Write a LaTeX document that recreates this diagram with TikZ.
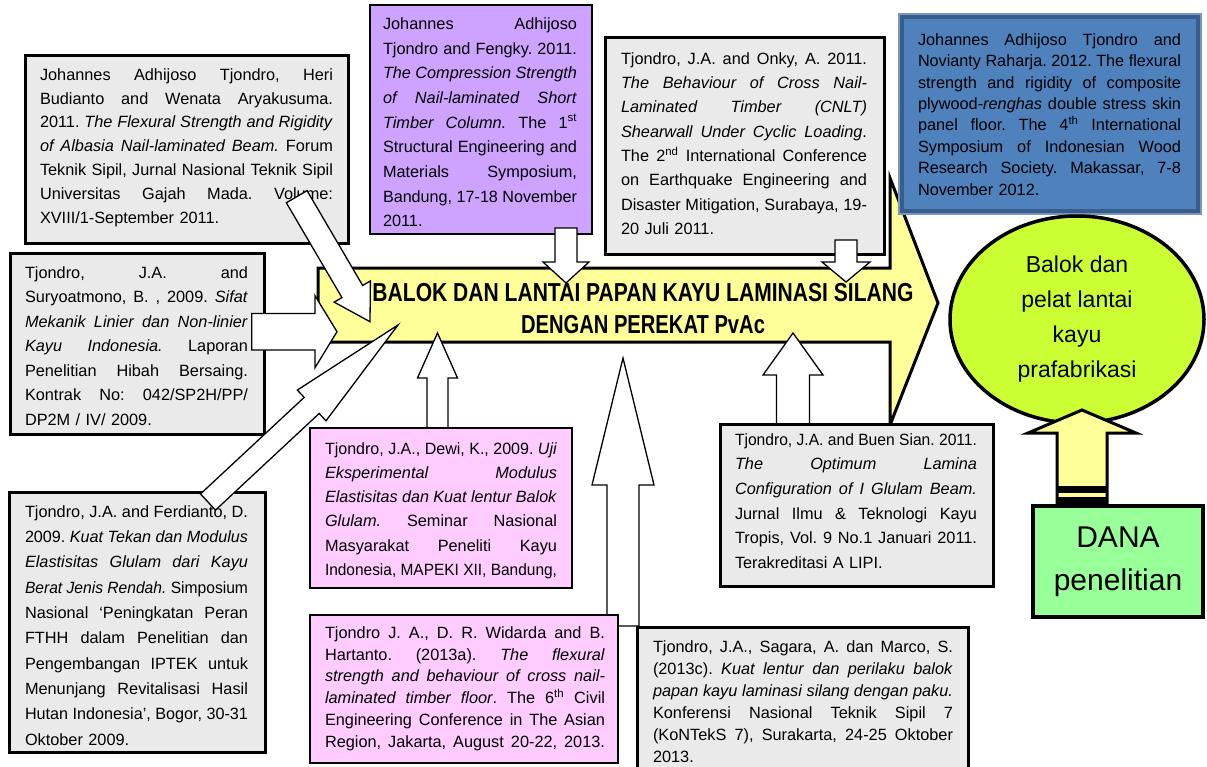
\documentclass[tikz,border=0pt]{standalone}
\usepackage{fontspec}
\setmainfont{Liberation Sans}
\usepackage{graphicx}
\usetikzlibrary{calc,shapes.geometric}
\AtBeginDocument{\frenchspacing}

\definecolor{boxgray}{RGB}{234,234,234}
\definecolor{lav}{RGB}{206,163,255}
\definecolor{pinkbox}{RGB}{255,204,255}
\definecolor{arrowyellow}{RGB}{255,255,153}
\definecolor{limegreen}{RGB}{204,255,51}
\definecolor{danagreen}{RGB}{153,255,153}
\definecolor{bluefill}{RGB}{79,129,189}
\definecolor{blueedge}{RGB}{56,93,138}
\definecolor{blueouter}{RGB}{120,150,190}

\newlength\jlwd
\newcommand\jlsp{\spaceskip=0.278em plus 30em\relax\xspaceskip=\spaceskip}
\newcommand\justline[2]{\leavevmode\settowidth{\jlwd}{\jlsp #2}\ifdim\jlwd>#1\relax\resizebox{#1}{\height}{\jlsp #2}\else\hbox to #1{\jlsp #2}\fi}

\newcommand\blockarrow[6][whitearrow]{%
  \coordinate (hb) at ($(#3)!#6!(#2)$);
  \draw[#1] ($(#2)!#4!90:(#3)$) -- ($(hb)!#4!90:(#3)$) -- ($(hb)!#5!90:(#3)$) -- (#3)
    -- ($(hb)!#5!-90:(#3)$) -- ($(hb)!#4!-90:(#3)$) -- ($(#2)!#4!-90:(#3)$) -- cycle;}

\tikzset{
  thickbox/.style={rectangle, draw=black, line width=3pt, fill=boxgray, anchor=north west, inner sep=0pt, outer sep=0pt},
  thinbox/.style={rectangle, draw=black, line width=1.3pt, anchor=north west, inner sep=0pt, outer sep=0pt},
  bluebox/.style={rectangle, draw=blueedge, line width=4pt, fill=bluefill, anchor=north west, inner sep=0pt, outer sep=0pt},
  reftext/.style={anchor=north west, inner sep=0pt, outer sep=0pt, align=left},
  whitearrow/.style={draw=black, fill=white, line width=1.3pt, line join=miter},
  yarrow/.style={draw=black, fill=arrowyellow, line width=3pt, line join=miter},
  bigarrow/.style={draw=black, fill=arrowyellow, line width=3pt, line join=miter},
}

\begin{document}
\begin{tikzpicture}[x=1pt,y=-1pt]
\clip (0,0) rectangle (1207,766);
\fill[white] (0,0) rectangle (1207,766);

% ---------- main yellow arrow ----------
\draw[bigarrow] (318,268) -- (890,268) -- (890,178) -- (938,303) -- (890,425) -- (890,342) -- (318,342) -- cycle;
\node[font=\bfseries\fontsize{26}{32}\selectfont, align=center, inner sep=0pt] (title) at (643,309)
  {\resizebox{541pt}{\height}{BALOK DAN LANTAI PAPAN KAYU LAMINASI SILANG}\\
   \resizebox{244pt}{\height}{DENGAN PEREKAT PvAc}};

% ---------- arrow end points ----------
\coordinate (aT) at (296.7,196.7); \coordinate (aH) at (370,321.7);
\coordinate (bT) at (251.7,331.7); \coordinate (bH) at (337,331.7);
\coordinate (cT) at (208,502);     \coordinate (cH) at (398,325);
\coordinate (dT) at (566,228);     \coordinate (dH) at (566,283);
\coordinate (eT) at (846,240);     \coordinate (eH) at (846,282);
\coordinate (fT) at (437.5,428);   \coordinate (fH) at (437.5,333);
\coordinate (gT) at (623,626);     \coordinate (gH) at (623,358);
\coordinate (hT) at (793,425);     \coordinate (hH) at (793,333);
\coordinate (yT) at (1082,503);    \coordinate (yH) at (1082,410);

% arrows behind boxes
\blockarrow{fT}{fH}{10.5pt}{20pt}{45pt}
\blockarrow{gT}{gH}{16pt}{31pt}{127pt}
\blockarrow{hT}{hH}{16.5pt}{30pt}{42pt}

% ---------- boxes ----------
\node[thickbox, minimum width=323pt, minimum height=188pt] (boxA) at (25,55) {};
\node[reftext, text width=293pt, font=\fontsize{16.3}{23.8}\selectfont] (tA) at (40,68.5) {%
\justline{293pt}{Johannes Adhijoso Tjondro, Heri}\\
\justline{293pt}{Budianto and Wenata Aryakusuma.}\\
\justline{293pt}{2011. \textit{The Flexural Strength and Rigidity}}\\
\justline{293pt}{\textit{of Albasia Nail-laminated Beam.} Forum}\\
\justline{293pt}{Teknik Sipil, Jurnal Nasional Teknik Sipil}\\
\justline{293pt}{Universitas Gajah Mada. Volume:}\\
XVIII/1-September 2011.};

\node[thinbox, fill=lav, minimum width=222pt, minimum height=229pt] (boxB) at (370,5) {};
\node[reftext, text width=194pt, font=\fontsize{16.3}{24.7}\selectfont] (tB) at (383,17.5) {%
\justline{194pt}{Johannes Adhijoso}\\
\justline{194pt}{Tjondro and Fengky. 2011.}\\
\justline{194pt}{\textit{The Compression Strength}}\\
\justline{194pt}{\textit{of Nail-laminated Short}}\\
\justline{194pt}{\textit{Timber Column.} The 1\textsuperscript{st}}\\
\justline{194pt}{Structural Engineering and}\\
\justline{194pt}{Materials Symposium,}\\
\justline{194pt}{Bandung, 17-18 November}\\
2011.};

\node[thickbox, minimum width=279pt, minimum height=217pt] (boxC) at (605,37) {};
\node[reftext, text width=246pt, font=\fontsize{16.3}{24.3}\selectfont] (tC) at (621,52.5) {%
\justline{246pt}{Tjondro, J.A. and Onky, A. 2011.}\\
\justline{246pt}{\textit{The Behaviour of Cross Nail-}}\\
\justline{246pt}{\textit{Laminated Timber (CNLT)}}\\
\justline{246pt}{\textit{Shearwall Under Cyclic Loading}.}\\
\justline{246pt}{The 2\textsuperscript{nd} International Conference}\\
\justline{246pt}{on Earthquake Engineering and}\\
\justline{246pt}{Disaster Mitigation, Surabaya, 19-}\\
20 Juli 2011.};

\draw[blueouter, line width=1.5pt] (899,14) rectangle (1201,214);
\node[bluebox, minimum width=296pt, minimum height=194pt] (boxD) at (902,17) {};
\node[reftext, text width=263pt, font=\fontsize{16.3}{21.4}\selectfont] (tD) at (918,33.5) {%
\justline{263pt}{Johannes Adhijoso Tjondro and}\\
\justline{263pt}{Novianty Raharja. 2012. The flexural}\\
\justline{263pt}{strength and rigidity of composite}\\
\justline{263pt}{plywood-\textit{renghas} double stress skin}\\
\justline{263pt}{panel floor. The 4\textsuperscript{th} International}\\
\justline{263pt}{Symposium of Indonesian Wood}\\
\justline{263pt}{Research Society. Makassar, 7-8}\\
November 2012.};

\node[thickbox, minimum width=254pt, minimum height=181pt] (boxE) at (10,253) {};
\node[reftext, text width=223pt, font=\fontsize{16.3}{24.5}\selectfont] (tE) at (25,266.5) {%
\justline{223pt}{Tjondro, J.A. and}\\
\justline{223pt}{Suryoatmono, B. , 2009. \textit{Sifat}}\\
\justline{223pt}{\textit{Mekanik Linier dan Non-linier}}\\
\justline{223pt}{\textit{Kayu Indonesia.} Laporan}\\
\justline{223pt}{Penelitian Hibah Bersaing.}\\
\justline{223pt}{Kontrak No: 042/SP2H/PP/}\\
DP2M / IV/ 2009.};

\node[thinbox, fill=pinkbox, minimum width=262pt, minimum height=160pt] (boxF) at (310,428) {};
\node[reftext, text width=232pt, font=\fontsize{16.3}{24.2}\selectfont] (tF) at (325,442.5) {%
\justline{232pt}{Tjondro, J.A., Dewi, K., 2009. \textit{Uji}}\\
\justline{232pt}{\textit{Eksperimental Modulus}}\\
\justline{232pt}{\textit{Elastisitas dan Kuat lentur Balok}}\\
\justline{232pt}{\textit{Glulam.} Seminar Nasional}\\
\justline{232pt}{Masyarakat Peneliti Kayu}\\
\justline{232pt}{Indonesia, MAPEKI XII, Bandung,}};

\node[thickbox, minimum width=273pt, minimum height=162pt] (boxG) at (720,424) {};
\node[reftext, text width=242pt, font=\fontsize{16.3}{24.6}\selectfont] (tG) at (735,433.5) {%
\justline{242pt}{Tjondro, J.A. and Buen Sian. 2011.}\\
\justline{242pt}{\textit{The Optimum Lamina}}\\
\justline{242pt}{\textit{Configuration of I Glulam Beam.}}\\
\justline{242pt}{Jurnal Ilmu \& Teknologi Kayu}\\
\justline{242pt}{Tropis, Vol. 9 No.1 Januari 2011.}\\
Terakreditasi A LIPI.};

\node[thickbox, minimum width=256pt, minimum height=260pt] (boxH) at (9,492) {};
\node[reftext, text width=223pt, font=\fontsize{16.3}{25.3}\selectfont] (tH) at (25,505.5) {%
\justline{223pt}{Tjondro, J.A. and Ferdianto, D.}\\
\justline{223pt}{2009. \textit{Kuat Tekan dan Modulus}}\\
\justline{223pt}{\textit{Elastisitas Glulam dari Kayu}}\\
\justline{223pt}{\textit{Berat Jenis Rendah.} Simposium}\\
\justline{223pt}{Nasional ‘Peningkatan Peran}\\
\justline{223pt}{FTHH dalam Penelitian dan}\\
\justline{223pt}{Pengembangan IPTEK untuk}\\
\justline{223pt}{Menunjang Revitalisasi Hasil}\\
\justline{223pt}{Hutan Indonesia’, Bogor, 30-31}\\
Oktober 2009.};

\node[thinbox, fill=pinkbox, minimum width=308pt, minimum height=148pt] (boxI) at (310,615) {};
\node[reftext, text width=280pt, font=\fontsize{16.3}{21.8}\selectfont] (tI) at (325,626.5) {%
\justline{280pt}{Tjondro J. A., D. R. Widarda and B.}\\
\justline{280pt}{Hartanto. (2013a). \textit{The flexural}}\\
\justline{280pt}{\textit{strength and behaviour of cross nail-}}\\
\justline{280pt}{\textit{laminated timber floor}. The 6\textsuperscript{th} Civil}\\
\justline{280pt}{Engineering Conference in The Asian}\\
\justline{280pt}{Region, Jakarta, August 20-22, 2013.}};

\node[thickbox, minimum width=331pt, minimum height=160pt] (boxJ) at (637,627) {};
\node[reftext, text width=300pt, font=\fontsize{16.3}{22}\selectfont] (tJ) at (653,640.5) {%
\justline{300pt}{Tjondro, J.A., Sagara, A. dan Marco, S.}\\
\justline{300pt}{(2013c). \textit{Kuat lentur dan perilaku balok}}\\
\justline{300pt}{\textit{papan kayu laminasi silang dengan paku.}}\\
\justline{300pt}{Konferensi Nasional Teknik Sipil 7}\\
\justline{300pt}{(KoNTekS 7), Surakarta, 24-25 Oktober}\\
2013.};

% arrows over boxes
\blockarrow{aT}{aH}{12pt}{21pt}{35pt}
\blockarrow{bT}{bH}{18.3pt}{36pt}{22pt}
\blockarrow{cT}{cH}{11pt}{21pt}{118pt}
\blockarrow{dT}{dH}{11pt}{23pt}{21pt}
\blockarrow{eT}{eH}{11pt}{24pt}{20pt}

% ---------- result and funding ----------
\node[ellipse, draw=black, line width=3.5pt, fill=limegreen, minimum width=254pt, minimum height=207pt,
      align=center, inner sep=0pt, font=\fontsize{23}{35}\selectfont] (goal) at (1077,319.5)
  {Balok dan\\pelat lantai\\kayu\\prafabrikasi};

\node[rectangle, draw=black, line width=3.5pt, fill=danagreen, minimum width=170pt, minimum height=111pt,
      inner sep=0pt, align=center, font=\fontsize{30}{43}\selectfont] (dana) at (1118,561.5) {DANA\\penelitian};

\blockarrow[yarrow]{yT}{yH}{25pt}{54pt}{23pt}
\fill[black] (1056,486) rectangle (1108,493);
\fill[black] (1056,497) rectangle (1108,504);
\end{tikzpicture}
\end{document}
